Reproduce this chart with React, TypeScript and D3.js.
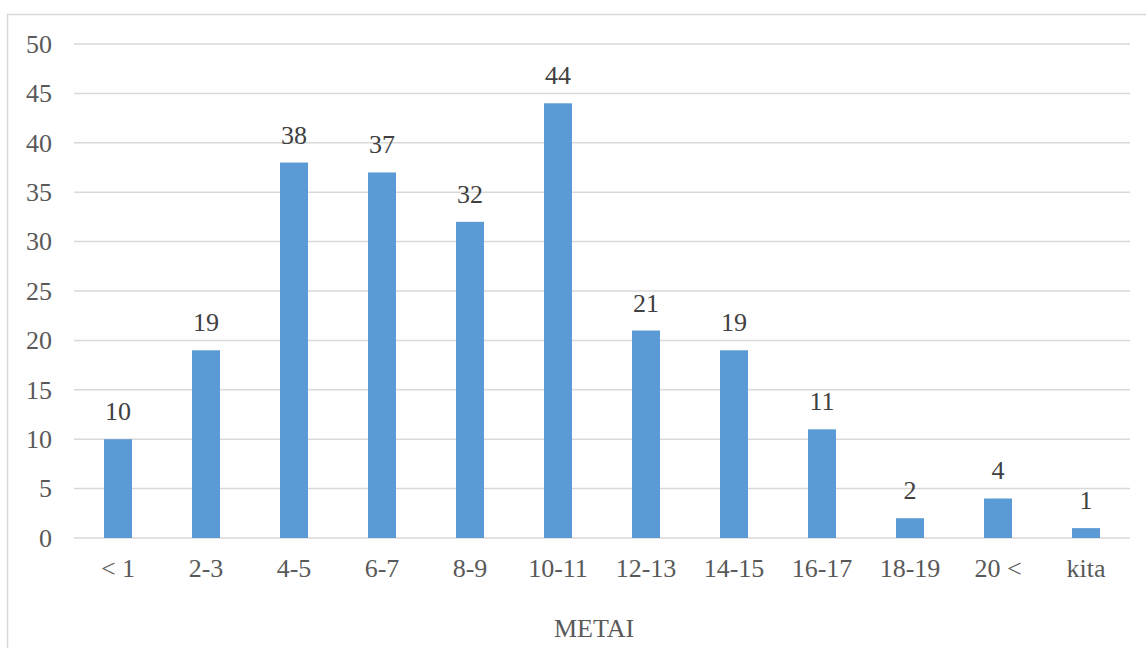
import React from "react";
import * as d3 from "d3";

const categories = ["< 1", "2-3", "4-5", "6-7", "8-9", "10-11", "12-13", "14-15", "16-17", "18-19", "20 <", "kita"];
const values = [10, 19, 38, 37, 32, 44, 21, 19, 11, 2, 4, 1];
const yTicks = [0, 5, 10, 15, 20, 25, 30, 35, 40, 45, 50];
const xTitle = "METAI";

export default function App() {
  const W = 1146, H = 648;
  const left = 74, right = 1130, top = 44, bottom = 538;
  const x = d3.scaleBand<string>().domain(categories).range([left, right]).paddingInner(0.682).paddingOuter(0.341);
  const y = d3.scaleLinear().domain([0, 50]).range([bottom, top]);
  const fs = 26;
  const tstyle = { fontFamily: "Liberation Serif, Times New Roman, serif", fontSize: fs };
  return (
    <div style={{ position: "fixed", left: 0, top: 0 }}>
      <svg width={W} height={H} style={{ display: "block" }}>
        <rect x={0} y={0} width={W} height={H} fill="#fff" />
        <rect x={7.5} y={14.5} width={1160} height={700} fill="#fff" stroke="#d9d9d9" strokeWidth={1.5} />
        {yTicks.map((t) => (
          <g key={t}>
            <line x1={left} x2={right} y1={y(t)} y2={y(t)} stroke="#d9d9d9" strokeWidth={1.5} />
            <text x={52} y={y(t)} dy="0.34em" textAnchor="end" style={tstyle} fill="#595959">{t}</text>
          </g>
        ))}
        {categories.map((c, i) => (
          <g key={c}>
            <rect x={x(c)} y={y(values[i])} width={x.bandwidth()} height={y(0) - y(values[i])} fill="#5b9bd5" />
            <text x={(x(c) as number) + x.bandwidth() / 2} y={y(values[i]) - 19} textAnchor="middle" style={tstyle} fill="#404040">{values[i]}</text>
            <text x={(x(c) as number) + x.bandwidth() / 2} y={577} textAnchor="middle" style={tstyle} fill="#595959">{c}</text>
          </g>
        ))}
        <text x={(left + right) / 2 - 8} y={637} textAnchor="middle" style={tstyle} fill="#595959">{xTitle}</text>
      </svg>
    </div>
  );
}
